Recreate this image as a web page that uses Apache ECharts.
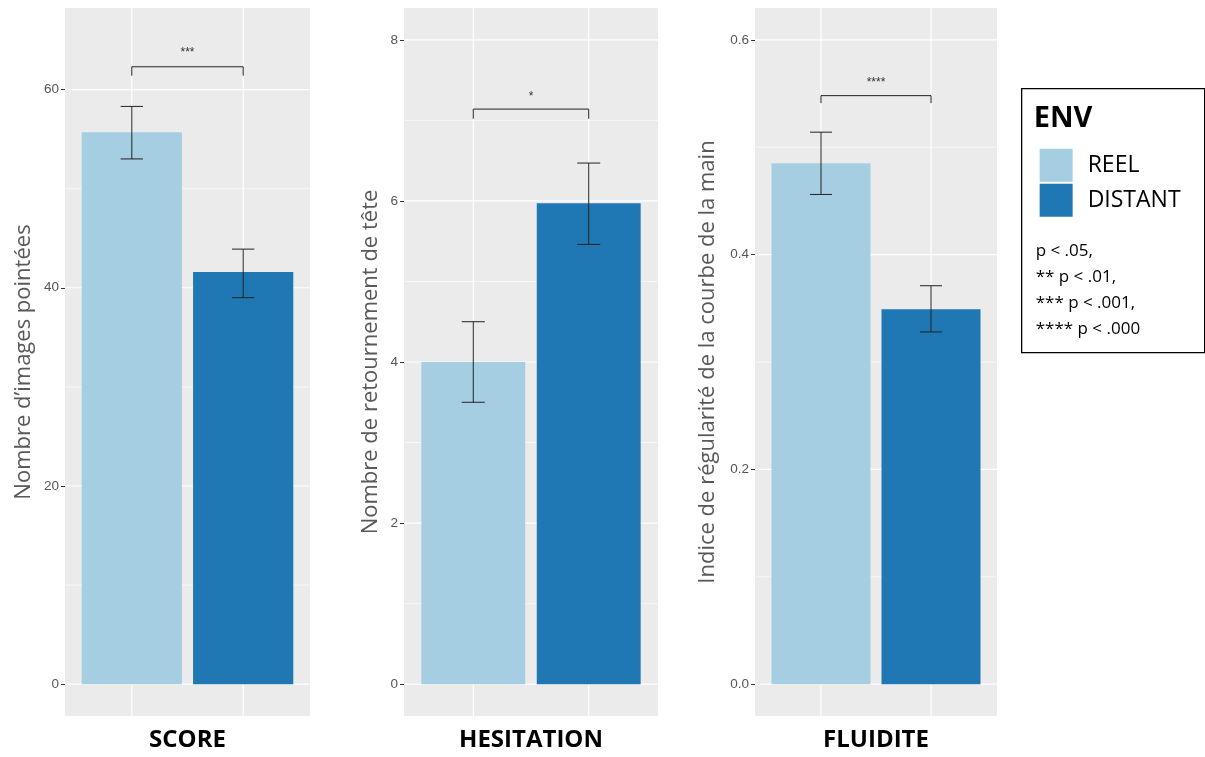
<!DOCTYPE html>
<html>
<head>
<meta charset="utf-8">
<script src="https://cdn.jsdelivr.net/npm/echarts@6/dist/echarts.min.js"></script>
<style>
html,body{margin:0;padding:0;background:#fff;overflow:hidden;}
#chart{width:1205px;height:757px;}
</style>
</head>
<body>
<div id="chart"></div>
<script>
// ---- data ----
const categories = ['REEL', 'DISTANT'];
const panelNames = ['SCORE', 'HESITATION', 'FLUIDITE'];
const yTitles = ['Nombre d\u2019images pointées', 'Nombre de retournement de tête', 'Indice de régularité de la courbe de la main'];

const scoreMean = [55.7, 41.6];
const scoreLow  = [53.0, 39.0];
const scoreHigh = [58.3, 43.9];

const hesMean = [4.0, 5.97];
const hesLow  = [3.5, 5.46];
const hesHigh = [4.5, 6.47];

const fluMean = [0.485, 0.349];
const fluLow  = [0.456, 0.328];
const fluHigh = [0.514, 0.371];

const signifLabels = ['***', '*', '****'];
const bracketY   = [62.3, 7.14, 0.548];
const bracketTip = [61.4, 7.02, 0.541];
const starY      = [63.7, 7.30, 0.560];

const yMin = [-3.21, -0.395, -0.0296];
const yMax = [68.23, 8.395, 0.6296];

const scoreTicks = [0, 20, 40, 60];
const scoreMinor = [10, 30, 50];
const hesTicks = [0, 2, 4, 6, 8];
const hesMinor = [1, 3, 5, 7];
const fluTicks = [0, 0.2, 0.4, 0.6];
const fluMinor = [0.1, 0.3, 0.5];

const legendNotes = ['p < .05,', '** p < .01,', '*** p < .001,', '**** p < .000'];
const colors = ['#A6CEE3', '#1F78B4'];

// ---- build ----
const means = [scoreMean, hesMean, fluMean];
const lows = [scoreLow, hesLow, fluLow];
const highs = [scoreHigh, hesHigh, fluHigh];
const ticks = [scoreTicks, hesTicks, fluTicks];
const minors = [scoreMinor, hesMinor, fluMinor];
const labelFmt = [v => String(v), v => String(v), v => v.toFixed(1)];

const grids = [
  {left: 65, width: 245, top: 8, height: 712},
  {left: 404, width: 254, top: 8, height: 712},
  {left: 755, width: 242, top: 8, height: 712}
];
const nameGaps = [30, 22, 36];
const XMIN = 0.4, XMAX = 2.6, BAR = 0.9, CAP = 0.2;

const option = {
  animation: false,
  backgroundColor: '#ffffff',
  grid: grids.map(g => Object.assign({show: true, backgroundColor: '#EBEBEB', borderWidth: 0, containLabel: false}, g)),
  xAxis: grids.map((g, i) => ({
    type: 'value', gridIndex: i, min: XMIN, max: XMAX,
    axisLine: {show: false}, axisTick: {show: false}, axisLabel: {show: false}, splitLine: {show: false},
    name: panelNames[i], nameLocation: 'middle', nameGap: 12,
    nameTextStyle: {fontFamily: 'Open Sans', fontWeight: 'bold', fontSize: 24, color: '#000', verticalAlign: 'top'}
  })),
  yAxis: grids.map((g, i) => ({
    type: 'value', gridIndex: i, min: yMin[i], max: yMax[i],
    axisLine: {show: false},
    splitLine: {show: false},
    axisTick: {show: true, length: 4, lineStyle: {color: '#333', width: 1}, customValues: ticks[i]},
    axisLabel: {show: true, customValues: ticks[i], formatter: labelFmt[i], fontSize: 13.5, color: '#555', fontFamily: 'Liberation Sans', margin: 6},
    name: yTitles[i], nameLocation: 'middle', nameRotate: 90, nameGap: nameGaps[i],
    nameTextStyle: {fontFamily: 'Open Sans', fontSize: 22, color: '#595959'}
  })),
  series: [],
  graphic: []
};

for (let i = 0; i < 3; i++) {
  // gridlines
  const gdata = [];
  ticks[i].forEach(v => gdata.push([0, v]));
  minors[i].forEach(v => gdata.push([1, v]));
  categories.forEach((c, k) => gdata.push([2, k + 1]));
  const lo = yMin[i], hi = yMax[i];
  option.series.push({
    type: 'custom', xAxisIndex: i, yAxisIndex: i, z: 1, silent: true, clip: true,
    data: gdata,
    renderItem: function (params, api) {
      const kind = api.value(0), v = api.value(1);
      let p1, p2, w;
      if (kind === 2) { p1 = api.coord([v, lo]); p2 = api.coord([v, hi]); w = 1.2; }
      else { p1 = api.coord([XMIN, v]); p2 = api.coord([XMAX, v]); w = kind === 0 ? 1.2 : 0.6; }
      return {type: 'line', shape: {x1: p1[0], y1: p1[1], x2: p2[0], y2: p2[1]}, style: {stroke: '#FFFFFF', lineWidth: w}};
    }
  });
  // bars + error bars
  const bdata = categories.map((c, k) => [k + 1, means[i][k], lows[i][k], highs[i][k], k]);
  option.series.push({
    type: 'custom', xAxisIndex: i, yAxisIndex: i, z: 3, silent: true, clip: false,
    data: bdata,
    renderItem: function (params, api) {
      const x = api.value(0), m = api.value(1), l = api.value(2), h = api.value(3), k = api.value(4);
      const tl = api.coord([x - BAR / 2, m]);
      const br = api.coord([x + BAR / 2, 0]);
      const top = api.coord([x, h]), bot = api.coord([x, l]);
      const cl = api.coord([x - CAP / 2, h]), cr = api.coord([x + CAP / 2, h]);
      const bl = api.coord([x - CAP / 2, l]), brr = api.coord([x + CAP / 2, l]);
      const st = {stroke: '#222', lineWidth: 1};
      return {type: 'group', children: [
        {type: 'rect', shape: {x: tl[0], y: tl[1], width: br[0] - tl[0], height: br[1] - tl[1]}, style: {fill: colors[k]}},
        {type: 'line', shape: {x1: top[0], y1: top[1], x2: bot[0], y2: bot[1]}, style: st},
        {type: 'line', shape: {x1: cl[0], y1: cl[1], x2: cr[0], y2: cr[1]}, style: st},
        {type: 'line', shape: {x1: bl[0], y1: bl[1], x2: brr[0], y2: brr[1]}, style: st}
      ]};
    }
  });
  // significance bracket
  const by = bracketY[i], bt = bracketTip[i], sy = starY[i], lab = signifLabels[i];
  option.series.push({
    type: 'custom', xAxisIndex: i, yAxisIndex: i, z: 4, silent: true, clip: false,
    data: [[1, 2]],
    renderItem: function (params, api) {
      const a = api.value(0), b = api.value(1);
      const p1 = api.coord([a, bt]), p2 = api.coord([a, by]), p3 = api.coord([b, by]), p4 = api.coord([b, bt]);
      const ps = api.coord([(a + b) / 2, sy]);
      return {type: 'group', children: [
        {type: 'polyline', shape: {points: [p1, p2, p3, p4]}, style: {stroke: '#222', lineWidth: 1, fill: null}},
        {type: 'text', x: ps[0], y: ps[1], style: {text: lab, fontSize: 12, fill: '#333', align: 'center', verticalAlign: 'middle', fontFamily: 'Liberation Sans'}}
      ]};
    }
  });
}

// legend (drawn with graphic elements)
const legendChildren = [
  {type: 'rect', shape: {x: 0, y: 0, width: 183, height: 264}, style: {fill: '#fff', stroke: '#000', lineWidth: 1.3}},
  {type: 'text', x: 12, y: 30, style: {text: 'ENV', fontFamily: 'Open Sans', fontWeight: 'bold', fontSize: 29, fill: '#000', verticalAlign: 'middle'}}
];
categories.forEach((c, k) => {
  legendChildren.push({type: 'rect', shape: {x: 18, y: 60 + k * 35, width: 33, height: 33}, style: {fill: colors[k]}});
  legendChildren.push({type: 'text', x: 66, y: 77 + k * 35, style: {text: c, fontFamily: 'Open Sans', fontSize: 23, fill: '#000', verticalAlign: 'middle'}});
});
legendNotes.forEach((t, k) => {
  legendChildren.push({type: 'text', x: 14, y: 163 + k * 26, style: {text: t, fontFamily: 'Open Sans', fontSize: 17, fill: '#000', verticalAlign: 'middle'}});
});
option.graphic.push({type: 'group', left: 1021, top: 88, children: legendChildren});

const chart = echarts.init(document.getElementById('chart'), null, {renderer: 'canvas'});
chart.setOption(option);
</script>
</body>
</html>
